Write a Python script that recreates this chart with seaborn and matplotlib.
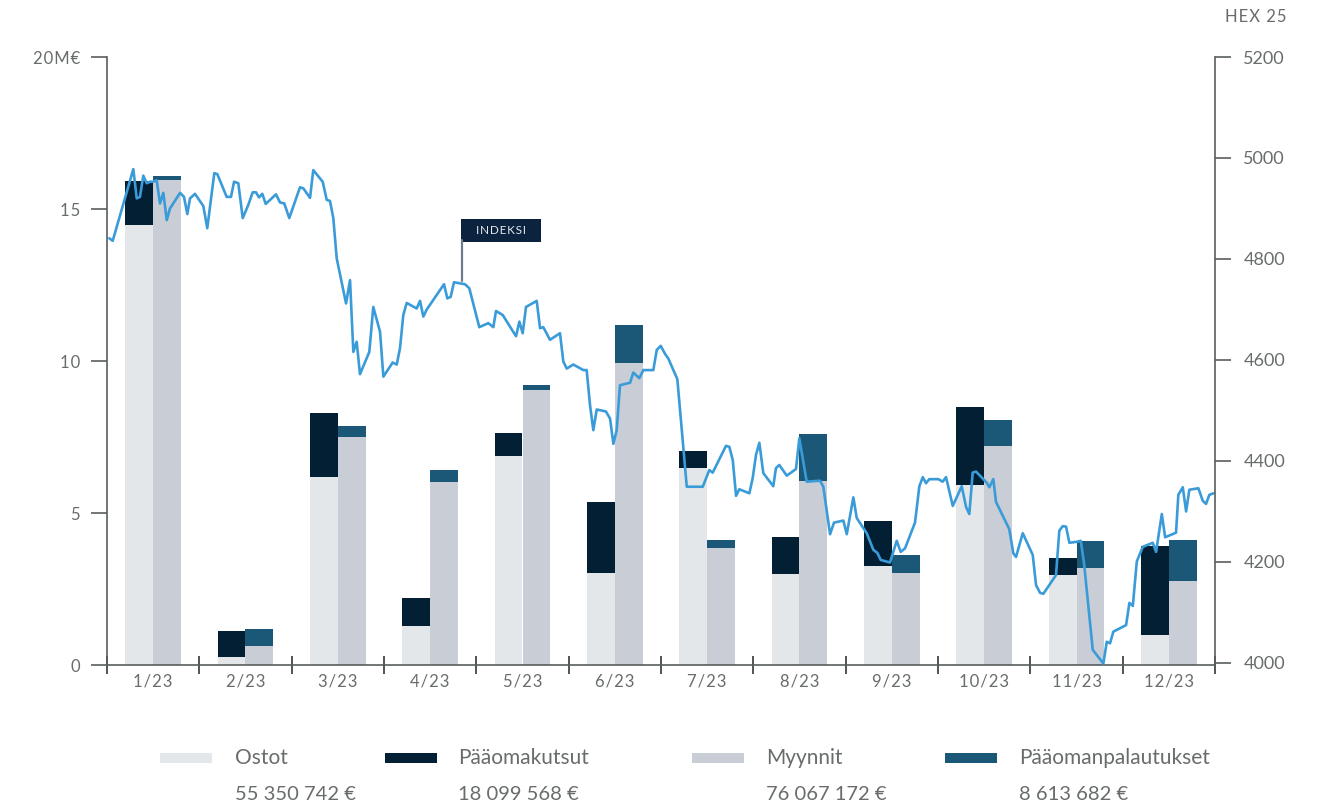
import numpy as np
import pandas as pd
import matplotlib
matplotlib.use("Agg")
import matplotlib.pyplot as plt
import seaborn as sns
from matplotlib.patches import Rectangle
from matplotlib.lines import Line2D

# ---------------- data ----------------
months = ["1/23", "2/23", "3/23", "4/23", "5/23", "6/23",
          "7/23", "8/23", "9/23", "10/23", "11/23", "12/23"]
ostot = [14.47, 0.26, 6.18, 1.28, 6.88, 3.03, 6.48, 2.99, 3.26, 5.92, 2.96, 0.99]
paaomakutsut = [1.45, 0.86, 2.11, 0.92, 0.75, 2.33, 0.56, 1.22, 1.48, 2.57, 0.56, 2.92]
myynnit = [15.95, 0.62, 7.50, 6.02, 9.05, 9.93, 3.85, 6.05, 3.03, 7.20, 3.19, 2.76]
paaomanpalautukset = [0.13, 0.56, 0.36, 0.39, 0.16, 1.25, 0.26, 1.55, 0.59, 0.86, 0.89, 1.35]

series_names = ["Ostot", "Pääomakutsut", "Myynnit", "Pääomanpalautukset"]
series_totals = ["55 350 742 €", "18 099 568 €", "76 067 172 €", "8 613 682 €"]

# HEX25 index, time in months elapsed since the start of 2023
index_time = [0.025, 0.062, 0.285, 0.322, 0.357, 0.393, 0.430, 0.466, 0.501, 0.538,
              0.574, 0.610, 0.647, 0.682, 0.791, 0.834, 0.870, 0.899, 0.953, 1.043,
              1.086, 1.162, 1.195, 1.296, 1.343, 1.376, 1.422, 1.470, 1.530, 1.578,
              1.614, 1.646, 1.682, 1.719, 1.830, 1.874, 1.920, 1.974, 2.090, 2.126,
              2.199, 2.234, 2.336, 2.380, 2.415, 2.451, 2.488, 2.589, 2.632, 2.668,
              2.704, 2.740, 2.841, 2.884, 2.957, 2.993, 3.094, 3.138, 3.173, 3.209,
              3.246, 3.354, 3.390, 3.426, 3.463, 3.650, 3.686, 3.722, 3.758, 3.877,
              3.924, 4.032, 4.130, 4.184, 4.213, 4.286, 4.430, 4.466, 4.502, 4.538,
              4.654, 4.690, 4.725, 4.798, 4.906, 4.942, 4.979, 5.050, 5.159, 5.195,
              5.231, 5.267, 5.304, 5.404, 5.448, 5.484, 5.520, 5.556, 5.665, 5.700,
              5.765, 5.809, 5.917, 5.954, 5.997, 6.044, 6.079, 6.177, 6.279, 6.452,
              6.523, 6.560, 6.704, 6.740, 6.777, 6.813, 6.848, 6.957, 6.993, 7.029,
              7.065, 7.108, 7.216, 7.245, 7.281, 7.362, 7.462, 7.498, 7.578, 7.722,
              7.758, 7.831, 7.874, 7.975, 8.012, 8.083, 8.120, 8.228, 8.300, 8.343,
              8.380, 8.480, 8.553, 8.596, 8.643, 8.751, 8.798, 8.835, 8.870, 8.906,
              9.004, 9.051, 9.087, 9.160, 9.257, 9.304, 9.339, 9.376, 9.412, 9.528,
              9.556, 9.599, 9.628, 9.772, 9.816, 9.845, 9.918, 10.026, 10.062, 10.105,
              10.141, 10.278, 10.314, 10.351, 10.387, 10.423, 10.503, 10.546, 10.582, 10.676,
              10.791, 10.828, 10.863, 10.899, 11.037, 11.073, 11.110, 11.153, 11.218, 11.326,
              11.362, 11.424, 11.460, 11.578, 11.603, 11.651, 11.687, 11.722, 11.820, 11.868,
              11.903, 11.939, 11.983]
index_value = [4841, 4836, 4978, 4920, 4923, 4965, 4950, 4953, 4953, 4956,
               4910, 4931, 4877, 4900, 4931, 4923, 4889, 4920, 4929, 4905,
               4861, 4970, 4968, 4923, 4923, 4953, 4950, 4881, 4907, 4932,
               4932, 4922, 4929, 4909, 4928, 4912, 4910, 4881, 4942, 4940,
               4921, 4976, 4953, 4917, 4915, 4881, 4801, 4712, 4758, 4616,
               4636, 4572, 4616, 4705, 4656, 4567, 4595, 4591, 4623, 4689,
               4713, 4702, 4717, 4686, 4700, 4750, 4722, 4725, 4754, 4750,
               4742, 4665, 4673, 4665, 4697, 4689, 4647, 4676, 4653, 4705,
               4717, 4663, 4665, 4640, 4653, 4597, 4583, 4591, 4580, 4580,
               4511, 4461, 4502, 4498, 4484, 4434, 4461, 4550, 4555, 4575,
               4564, 4580, 4580, 4620, 4628, 4612, 4603, 4562, 4349, 4349,
               4382, 4377, 4430, 4428, 4402, 4331, 4344, 4336, 4366, 4412,
               4436, 4376, 4350, 4386, 4392, 4371, 4384, 4445, 4359, 4361,
               4349, 4255, 4278, 4282, 4255, 4328, 4287, 4257, 4224, 4218,
               4204, 4199, 4242, 4220, 4227, 4278, 4350, 4368, 4356, 4364,
               4364, 4359, 4368, 4311, 4350, 4309, 4295, 4377, 4379, 4357,
               4348, 4364, 4319, 4265, 4217, 4210, 4257, 4214, 4154, 4139,
               4137, 4174, 4262, 4271, 4270, 4238, 4240, 4242, 4197, 4026,
               3999, 4042, 4039, 4062, 4075, 4119, 4113, 4201, 4230, 4238,
               4220, 4295, 4249, 4258, 4333, 4348, 4300, 4343, 4346, 4321,
               4315, 4333, 4336]

left_ticks = [0, 5, 10, 15, 20]
left_tick_labels = ["0", "5", "10", "15", "20M€"]
right_ticks = [4000, 4200, 4400, 4600, 4800, 5000, 5200]
right_tick_labels = ["4000", "4200", "4400", "4600", "4800", "5000", "5200"]
index_name = "HEX 25"
index_tag = "INDEKSI"

# ---------------- style ----------------
C_OSTOT = "#e4e7e9"
C_KUTSUT = "#021f33"
C_MYYNNIT = "#c9cdd5"
C_PALAUT = "#1b5878"
C_LINE = "#3a9bd9"
C_TEXT = "#686c6d"
C_AXIS = "#5a5d5f"
C_TAG = "#0c2340"
HS = "\u200a"  # hair space for letter spacing

sns.set_theme(style="white")
FONT = ["Lato", "DejaVu Sans"]
plt.rcParams["font.family"] = FONT

fig = plt.figure(figsize=(13.22, 8.09), dpi=100)
ax = fig.add_axes([107 / 1322, 144 / 809, 1108 / 1322, 608 / 809])

df = pd.DataFrame({
    "month": months * 2,
    "side": ["osto"] * 12 + ["myynti"] * 12,
    "base": ostot + myynnit,
    "total": [o + k for o, k in zip(ostot, paaomakutsut)] +
             [m + p for m, p in zip(myynnit, paaomanpalautukset)],
})

sns.barplot(data=df, x="month", y="total", hue="side", order=months,
            hue_order=["osto", "myynti"], palette=[C_KUTSUT, C_PALAUT],
            width=0.6, saturation=1, dodge=True, errorbar=None,
            linewidth=0, legend=False, ax=ax)
sns.barplot(data=df, x="month", y="base", hue="side", order=months,
            hue_order=["osto", "myynti"], palette=[C_OSTOT, C_MYYNNIT],
            width=0.6, saturation=1, dodge=True, errorbar=None,
            linewidth=0, legend=False, ax=ax)

ax.set_xlim(-0.5, 11.5)
ax.set_ylim(0, 20)
ax.set_xlabel("")
ax.set_ylabel("")

ax.set_xticks(np.arange(-0.5, 12, 1))
ax.set_xticklabels([])
ax.set_xticks(np.arange(12), minor=True)
ax.set_xticklabels([HS.join(list(m)) for m in months], minor=True)
ax.tick_params(axis="x", which="major", direction="inout", length=13,
               width=1.2, color="#333638", bottom=True)
ax.tick_params(axis="x", which="minor", length=0, pad=6, labelsize=12,
               labelcolor=C_TEXT, bottom=True)

ax.set_yticks(left_ticks)
ax.set_yticklabels([HS.join(list(t)) for t in left_tick_labels])
ax.tick_params(axis="y", direction="out", length=11.5, width=1.2, color=C_AXIS,
               pad=8, labelsize=12, labelcolor=C_TEXT, left=True)

for s in ["top", "right"]:
    ax.spines[s].set_visible(False)
for s in ["left", "bottom"]:
    ax.spines[s].set_color(C_AXIS)
    ax.spines[s].set_linewidth(1.2)
ax.grid(False)

# index line on the secondary axis
ax2 = ax.twinx()
sns.lineplot(x=np.array(index_time) - 0.5, y=index_value, ax=ax2, color=C_LINE,
             linewidth=1.9, estimator=None, sort=False)
ax2.set_ylim(3996, 5200)
ax2.set_xlim(-0.5, 11.5)
ax2.set_yticks(right_ticks)
ax2.set_yticklabels(right_tick_labels)
ax2.tick_params(axis="y", direction="out", length=11.5, width=1.2, color=C_AXIS,
                pad=9, labelsize=13, labelcolor=C_TEXT, right=True)
for s in ["top", "left", "bottom"]:
    ax2.spines[s].set_visible(False)
ax2.spines["right"].set_color(C_AXIS)
ax2.spines["right"].set_linewidth(1.2)
ax2.grid(False)
ax2.set_ylabel("")

fig.text(1256 / 1322, 1 - 17 / 809, HS.join(list(index_name)), ha="center",
         va="center", fontsize=12, color=C_TEXT)

# INDEKSI tag
fig.add_artist(Line2D([462 / 1322, 462 / 1322], [1 - 281 / 809, 1 - 240 / 809],
                      transform=fig.transFigure, color="#6d7b8a", linewidth=1.6))
fig.add_artist(Rectangle((461 / 1322, 1 - 242 / 809), 80 / 1322, 23 / 809,
                         transform=fig.transFigure, facecolor=C_TAG, edgecolor="none"))
fig.text(501 / 1322, 1 - 230.5 / 809, HS.join(list(index_tag)), ha="center",
         va="center", fontsize=8.5, color="#e3e8ee")

# legend
leg_colors = [C_OSTOT, C_KUTSUT, C_MYYNNIT, C_PALAUT]
patch_x = [160, 385, 692, 945]
text_x = [235, 458, 766, 1019]
for name, total, col, px, tx in zip(series_names, series_totals, leg_colors, patch_x, text_x):
    fig.add_artist(Rectangle((px / 1322, 1 - 763 / 809), 52 / 1322, 10 / 809,
                             transform=fig.transFigure, facecolor=col, edgecolor="none"))
    fig.text(tx / 1322, 1 - 758 / 809, name, ha="left", va="center",
             fontsize=15, color=C_TEXT)
    fig.text(tx / 1322, 1 - 795 / 809, total, ha="left", va="center",
             fontsize=14.5, color=C_TEXT)

fig.savefig("out.png", dpi=100)
